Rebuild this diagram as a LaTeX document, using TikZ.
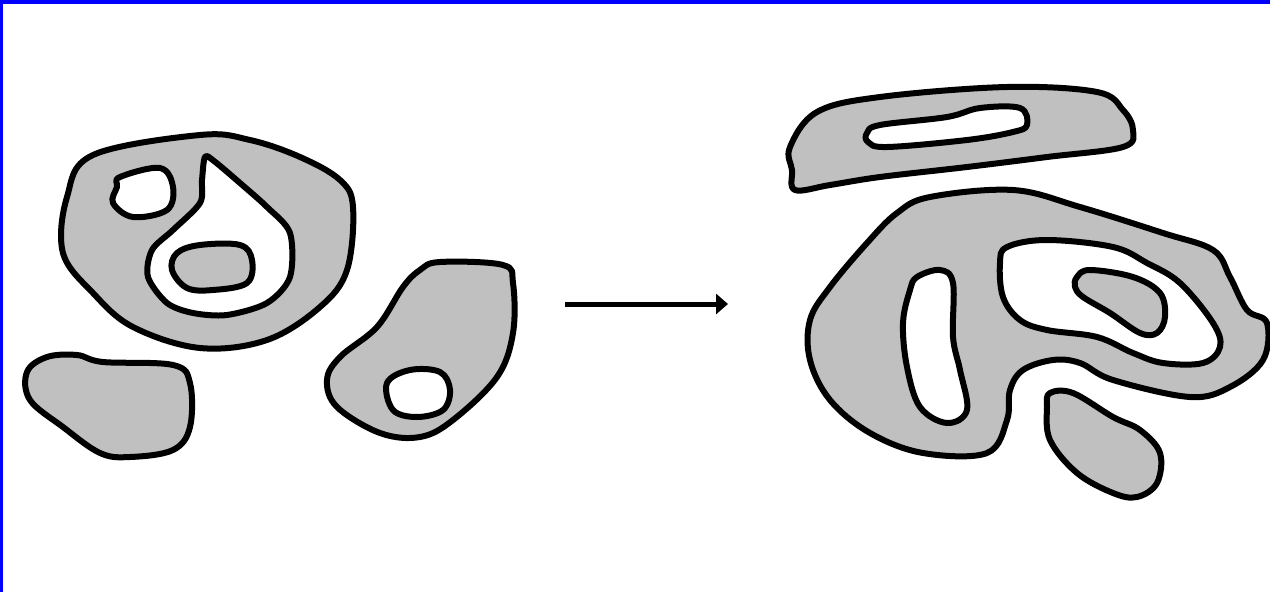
\documentclass[tikz,border=0pt]{standalone}
\usetikzlibrary{arrows.meta}
\definecolor{blobgray}{RGB}{192,192,192}
\definecolor{frameblue}{RGB}{0,0,255}
\tikzset{
  blob/.style={draw=black,line width=6pt,fill=blobgray,line join=round},
  hole/.style={blob,fill=white},
  outline/.style={smooth cycle,tension=0.6}
}
\begin{document}
\begin{tikzpicture}[x=1pt,y=-1pt]
\useasboundingbox (0,0) rectangle (1270,592);
\fill[white] (0,0) rectangle (1270,592);
\fill[frameblue] (0,0) rectangle (1270,4);
\fill[frameblue] (0,0) rectangle (2.5,592);
% left group
\draw[blob] plot[outline] coordinates {(200,135) (250,140) (300,157) (340,180) (353,207) (347,270) (320,307) (267,340) (200,348) (133,327) (93,293) (63,253) (67,197) (93,155)};
\draw[hole] plot[outline] coordinates {(120,177) (160,168) (173,187) (167,210) (133,217) (113,203) (117,187)};
\draw[hole] plot[outline,tension=0.5] coordinates {(205,157) (214,161) (240,183) (267,207) (290,233) (290,277) (267,303) (227,315) (193,313) (167,303) (148,277) (152,250) (173,230) (200,203) (202,180)};
\draw[blob] plot[outline] coordinates {(177,253) (200,245) (240,245) (252,260) (247,283) (213,290) (187,288) (172,270)};
\draw[blob] plot[outline] coordinates {(27,372) (47,357) (77,355) (103,362) (173,365) (190,383) (190,427) (173,450) (130,457) (100,453) (63,427) (30,400)};
\draw[blob] plot[outline] coordinates {(440,262) (503,265) (513,283) (513,333) (497,377) (453,420) (420,437) (380,433) (337,407) (327,380) (340,357) (377,327) (403,287) (420,270)};
\draw[hole] plot[outline] coordinates {(387,383) (410,370) (440,372) (450,390) (443,410) (417,417) (393,410)};
% arrow
\coordinate (from) at (565,304);
\coordinate (to) at (728,304);
\draw[line width=5pt,-{Triangle[length=12pt,width=20pt]}] (from) -- (to);
% right group
\draw[blob] plot[outline] coordinates {(790,147) (817,112) (880,97) (1007,87) (1097,92) (1123,110) (1133,130) (1123,147) (1047,157) (967,167) (880,177) (830,185) (795,190) (792,170)};
\draw[hole] plot[outline] coordinates {(867,133) (880,125) (947,117) (980,108) (1020,108) (1027,125) (1013,132) (967,140) (887,147) (868,142)};
\draw[blob] plot[outline] coordinates {(930,197) (1013,190) (1080,207) (1163,233) (1213,250) (1230,277) (1247,310) (1267,323) (1263,360) (1230,387) (1190,397) (1113,380) (1080,363) (1053,360) (1023,370) (1010,390) (1007,420) (987,453) (923,453) (870,433) (830,400) (810,360) (810,320) (830,287) (867,243) (897,213)};
\draw[hole] plot[outline] coordinates {(917,277) (940,270) (953,283) (953,337) (960,370) (967,410) (947,423) (920,407) (907,367) (903,323) (910,290)};
\draw[hole] plot[outline] coordinates {(1007,247) (1047,240) (1113,247) (1147,263) (1180,283) (1213,323) (1220,347) (1203,363) (1163,363) (1133,353) (1097,337) (1047,330) (1020,320) (1003,297) (1000,263)};
\draw[blob] plot[outline] coordinates {(1077,277) (1090,270) (1133,277) (1160,293) (1165,317) (1157,333) (1140,333) (1110,313) (1083,297) (1075,287)};
\draw[blob] plot[outline] coordinates {(1050,393) (1073,393) (1113,417) (1140,430) (1160,453) (1157,483) (1137,497) (1113,493) (1077,473) (1050,440) (1047,407)};
\end{tikzpicture}
\end{document}
